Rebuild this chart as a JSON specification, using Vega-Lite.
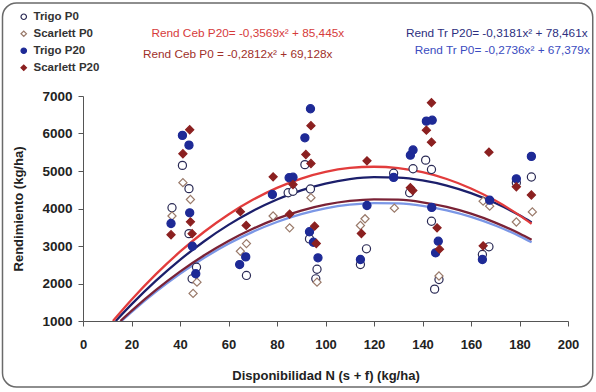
{
  "$schema": "https://vega.github.io/schema/vega-lite/v6.json",
  "width": 485,
  "height": 225,
  "autosize": {"type": "none"},
  "padding": {"left": 83, "top": 96, "right": 28, "bottom": 71},
  "background": "white",
  "config": {
    "view": {"stroke": null},
    "font": "Liberation Sans",
    "axis": {
      "grid": false,
      "domainColor": "#555",
      "tickColor": "#555",
      "tickSize": 5,
      "labelColor": "#222",
      "labelFont": "Liberation Sans",
      "labelFontWeight": "bold",
      "labelOverlap": false,
      "labelBound": false,
      "labelFlush": false,
      "titleFont": "Liberation Sans",
      "titleFontWeight": "bold",
      "titleColor": "#222",
      "titleFontSize": 13
    },
    "axisY": {"labelOverlap": false, "labelFontSize": 13.5},
    "axisQuantitative": {"labelOverlap": false}
  },
  "datasets": {
    "curves": [
      {"curve": "Trigo P0", "N": 15.86, "R": 1000}, {"curve": "Trigo P0", "N": 20, "R": 1238}, {"curve": "Trigo P0", "N": 30, "R": 1775}, {"curve": "Trigo P0", "N": 40, "R": 2257}, {"curve": "Trigo P0", "N": 50, "R": 2685}, {"curve": "Trigo P0", "N": 60, "R": 3058}, {"curve": "Trigo P0", "N": 70, "R": 3376}, {"curve": "Trigo P0", "N": 80, "R": 3639}, {"curve": "Trigo P0", "N": 90, "R": 3848}, {"curve": "Trigo P0", "N": 100, "R": 4002}, {"curve": "Trigo P0", "N": 110, "R": 4101}, {"curve": "Trigo P0", "N": 120, "R": 4146}, {"curve": "Trigo P0", "N": 130, "R": 4135}, {"curve": "Trigo P0", "N": 140, "R": 4071}, {"curve": "Trigo P0", "N": 150, "R": 3951}, {"curve": "Trigo P0", "N": 160, "R": 3777}, {"curve": "Trigo P0", "N": 170, "R": 3547}, {"curve": "Trigo P0", "N": 180, "R": 3264}, {"curve": "Trigo P0", "N": 185, "R": 3101},
      {"curve": "Ceb P0", "N": 15.43, "R": 1000}, {"curve": "Ceb P0", "N": 20, "R": 1270}, {"curve": "Ceb P0", "N": 30, "R": 1821}, {"curve": "Ceb P0", "N": 40, "R": 2315}, {"curve": "Ceb P0", "N": 50, "R": 2753}, {"curve": "Ceb P0", "N": 60, "R": 3135}, {"curve": "Ceb P0", "N": 70, "R": 3461}, {"curve": "Ceb P0", "N": 80, "R": 3731}, {"curve": "Ceb P0", "N": 90, "R": 3944}, {"curve": "Ceb P0", "N": 100, "R": 4101}, {"curve": "Ceb P0", "N": 110, "R": 4202}, {"curve": "Ceb P0", "N": 120, "R": 4246}, {"curve": "Ceb P0", "N": 130, "R": 4234}, {"curve": "Ceb P0", "N": 140, "R": 4166}, {"curve": "Ceb P0", "N": 150, "R": 4042}, {"curve": "Ceb P0", "N": 160, "R": 3862}, {"curve": "Ceb P0", "N": 170, "R": 3625}, {"curve": "Ceb P0", "N": 180, "R": 3332}, {"curve": "Ceb P0", "N": 185, "R": 3165},
      {"curve": "Trigo P20", "N": 13.49, "R": 1000}, {"curve": "Trigo P20", "N": 20, "R": 1442}, {"curve": "Trigo P20", "N": 30, "R": 2068}, {"curve": "Trigo P20", "N": 40, "R": 2630}, {"curve": "Trigo P20", "N": 50, "R": 3128}, {"curve": "Trigo P20", "N": 60, "R": 3563}, {"curve": "Trigo P20", "N": 70, "R": 3934}, {"curve": "Trigo P20", "N": 80, "R": 4241}, {"curve": "Trigo P20", "N": 90, "R": 4485}, {"curve": "Trigo P20", "N": 100, "R": 4665}, {"curve": "Trigo P20", "N": 110, "R": 4782}, {"curve": "Trigo P20", "N": 120, "R": 4835}, {"curve": "Trigo P20", "N": 130, "R": 4824}, {"curve": "Trigo P20", "N": 140, "R": 4750}, {"curve": "Trigo P20", "N": 150, "R": 4612}, {"curve": "Trigo P20", "N": 160, "R": 4410}, {"curve": "Trigo P20", "N": 170, "R": 4145}, {"curve": "Trigo P20", "N": 180, "R": 3817}, {"curve": "Trigo P20", "N": 185, "R": 3628},
      {"curve": "Ceb P20", "N": 12.34, "R": 1000}, {"curve": "Ceb P20", "N": 20, "R": 1566}, {"curve": "Ceb P20", "N": 30, "R": 2242}, {"curve": "Ceb P20", "N": 40, "R": 2847}, {"curve": "Ceb P20", "N": 50, "R": 3380}, {"curve": "Ceb P20", "N": 60, "R": 3842}, {"curve": "Ceb P20", "N": 70, "R": 4232}, {"curve": "Ceb P20", "N": 80, "R": 4551}, {"curve": "Ceb P20", "N": 90, "R": 4799}, {"curve": "Ceb P20", "N": 100, "R": 4976}, {"curve": "Ceb P20", "N": 110, "R": 5081}, {"curve": "Ceb P20", "N": 120, "R": 5114}, {"curve": "Ceb P20", "N": 130, "R": 5076}, {"curve": "Ceb P20", "N": 140, "R": 4967}, {"curve": "Ceb P20", "N": 150, "R": 4787}, {"curve": "Ceb P20", "N": 160, "R": 4535}, {"curve": "Ceb P20", "N": 170, "R": 4211}, {"curve": "Ceb P20", "N": 180, "R": 3817}, {"curve": "Ceb P20", "N": 185, "R": 3592}
    ],
    "points": [
      {"serie": "Trigo P0", "N": 36.7, "R": 4020}, {"serie": "Trigo P0", "N": 41, "R": 5150}, {"serie": "Trigo P0", "N": 43.7, "R": 4530}, {"serie": "Trigo P0", "N": 43.7, "R": 3330}, {"serie": "Trigo P0", "N": 46.8, "R": 2435}, {"serie": "Trigo P0", "N": 45, "R": 2125}, {"serie": "Trigo P0", "N": 67.4, "R": 2215}, {"serie": "Trigo P0", "N": 84.6, "R": 4420}, {"serie": "Trigo P0", "N": 86.6, "R": 4460}, {"serie": "Trigo P0", "N": 91.5, "R": 5170}, {"serie": "Trigo P0", "N": 93.8, "R": 4520}, {"serie": "Trigo P0", "N": 93.4, "R": 3190}, {"serie": "Trigo P0", "N": 96.5, "R": 2380}, {"serie": "Trigo P0", "N": 96, "R": 2125}, {"serie": "Trigo P0", "N": 116.9, "R": 2925}, {"serie": "Trigo P0", "N": 114.4, "R": 2507}, {"serie": "Trigo P0", "N": 128.1, "R": 4940}, {"serie": "Trigo P0", "N": 136.1, "R": 5060}, {"serie": "Trigo P0", "N": 134.7, "R": 4420}, {"serie": "Trigo P0", "N": 141.3, "R": 5290}, {"serie": "Trigo P0", "N": 143.7, "R": 5040}, {"serie": "Trigo P0", "N": 143.7, "R": 3660}, {"serie": "Trigo P0", "N": 146.8, "R": 2107}, {"serie": "Trigo P0", "N": 145, "R": 1850}, {"serie": "Trigo P0", "N": 167.4, "R": 2978}, {"serie": "Trigo P0", "N": 164.7, "R": 2773}, {"serie": "Trigo P0", "N": 178.7, "R": 4685}, {"serie": "Trigo P0", "N": 184.9, "R": 4840},
      {"serie": "Scarlett P0", "N": 36.7, "R": 3800}, {"serie": "Scarlett P0", "N": 41.2, "R": 4690}, {"serie": "Scarlett P0", "N": 44.3, "R": 4240}, {"serie": "Scarlett P0", "N": 47, "R": 2035}, {"serie": "Scarlett P0", "N": 45.4, "R": 1735}, {"serie": "Scarlett P0", "N": 64.9, "R": 2860}, {"serie": "Scarlett P0", "N": 67.4, "R": 3065}, {"serie": "Scarlett P0", "N": 78.4, "R": 3800}, {"serie": "Scarlett P0", "N": 85.2, "R": 3485}, {"serie": "Scarlett P0", "N": 94, "R": 4290}, {"serie": "Scarlett P0", "N": 96.5, "R": 2035}, {"serie": "Scarlett P0", "N": 114.4, "R": 3547}, {"serie": "Scarlett P0", "N": 116.3, "R": 3726}, {"serie": "Scarlett P0", "N": 128.4, "R": 4010}, {"serie": "Scarlett P0", "N": 146.8, "R": 2200}, {"serie": "Scarlett P0", "N": 165, "R": 4195}, {"serie": "Scarlett P0", "N": 167.7, "R": 4062}, {"serie": "Scarlett P0", "N": 178.7, "R": 3640}, {"serie": "Scarlett P0", "N": 185.3, "R": 3910},
      {"serie": "Trigo P20", "N": 36.3, "R": 3600}, {"serie": "Trigo P20", "N": 41, "R": 5950}, {"serie": "Trigo P20", "N": 43.7, "R": 5690}, {"serie": "Trigo P20", "N": 44, "R": 3885}, {"serie": "Trigo P20", "N": 45.1, "R": 2995}, {"serie": "Trigo P20", "N": 46.5, "R": 2260}, {"serie": "Trigo P20", "N": 64.6, "R": 2505}, {"serie": "Trigo P20", "N": 67.1, "R": 2710}, {"serie": "Trigo P20", "N": 78.1, "R": 4373}, {"serie": "Trigo P20", "N": 85, "R": 4820}, {"serie": "Trigo P20", "N": 86.6, "R": 4835}, {"serie": "Trigo P20", "N": 93.8, "R": 6660}, {"serie": "Trigo P20", "N": 91.5, "R": 5885}, {"serie": "Trigo P20", "N": 93.4, "R": 3380}, {"serie": "Trigo P20", "N": 95, "R": 3100}, {"serie": "Trigo P20", "N": 96.9, "R": 2685}, {"serie": "Trigo P20", "N": 117.1, "R": 4080}, {"serie": "Trigo P20", "N": 114.4, "R": 2640}, {"serie": "Trigo P20", "N": 128.1, "R": 4830}, {"serie": "Trigo P20", "N": 135, "R": 5422}, {"serie": "Trigo P20", "N": 136.1, "R": 5560}, {"serie": "Trigo P20", "N": 141.6, "R": 6330}, {"serie": "Trigo P20", "N": 144, "R": 6355}, {"serie": "Trigo P20", "N": 143.8, "R": 4030}, {"serie": "Trigo P20", "N": 146.5, "R": 3128}, {"serie": "Trigo P20", "N": 145.4, "R": 2818}, {"serie": "Trigo P20", "N": 167.7, "R": 4222}, {"serie": "Trigo P20", "N": 164.7, "R": 2640}, {"serie": "Trigo P20", "N": 178.7, "R": 4792}, {"serie": "Trigo P20", "N": 184.9, "R": 5390},
      {"serie": "Scarlett P20", "N": 36.3, "R": 3300}, {"serie": "Scarlett P20", "N": 44, "R": 6100}, {"serie": "Scarlett P20", "N": 41.2, "R": 5460}, {"serie": "Scarlett P20", "N": 44.3, "R": 3645}, {"serie": "Scarlett P20", "N": 45, "R": 3330}, {"serie": "Scarlett P20", "N": 64.9, "R": 3915}, {"serie": "Scarlett P20", "N": 67.3, "R": 3550}, {"serie": "Scarlett P20", "N": 78.4, "R": 4845}, {"serie": "Scarlett P20", "N": 85.2, "R": 3850}, {"serie": "Scarlett P20", "N": 86.6, "R": 4640}, {"serie": "Scarlett P20", "N": 94, "R": 6210}, {"serie": "Scarlett P20", "N": 91.9, "R": 5440}, {"serie": "Scarlett P20", "N": 94, "R": 5200}, {"serie": "Scarlett P20", "N": 95.5, "R": 3530}, {"serie": "Scarlett P20", "N": 96.2, "R": 3067}, {"serie": "Scarlett P20", "N": 117.1, "R": 5272}, {"serie": "Scarlett P20", "N": 114.8, "R": 3333}, {"serie": "Scarlett P20", "N": 135, "R": 4553}, {"serie": "Scarlett P20", "N": 136, "R": 4480}, {"serie": "Scarlett P20", "N": 143.7, "R": 6820}, {"serie": "Scarlett P20", "N": 141.6, "R": 6090}, {"serie": "Scarlett P20", "N": 143.7, "R": 5770}, {"serie": "Scarlett P20", "N": 146, "R": 3485}, {"serie": "Scarlett P20", "N": 147, "R": 2915}, {"serie": "Scarlett P20", "N": 167.4, "R": 5502}, {"serie": "Scarlett P20", "N": 165, "R": 3005}, {"serie": "Scarlett P20", "N": 178.7, "R": 4580}, {"serie": "Scarlett P20", "N": 184.9, "R": 4360}
    ]
  },
  "layer": [
    {
      "data": {"values": [{}]},
      "mark": {"type": "rect", "fill": null, "stroke": "#6a6a6a", "strokeWidth": 1.5, "cornerRadius": 14, "clip": false},
      "encoding": {"x": {"datum": -33.2}, "x2": {"datum": 210.2}, "y": {"datum": 9480}, "y2": {"datum": -760}}
    },
    {
      "data": {"name": "curves"},
      "mark": {"type": "line", "interpolate": "monotone", "strokeWidth": 2.3, "clip": true},
      "encoding": {
        "x": {"field": "N", "type": "quantitative", "scale": {"domain": [0, 200], "nice": false, "zero": false},
          "axis": {"values": [0, 20, 40, 60, 80, 100, 120, 140, 160, 180, 200], "format": "d", "labelOverlap": false, "labelFontSize": 13, "labelPadding": 12, "title": "Disponibilidad N (s + f) (kg/ha)", "titlePadding": 18}},
        "y": {"field": "R", "type": "quantitative", "scale": {"domain": [1000, 7000], "nice": false, "zero": false},
          "axis": {"values": [1000, 2000, 3000, 4000, 5000, 6000, 7000], "tickCount": 7, "format": "d", "labelOverlap": false, "labelFontSize": 13.5, "labelPadding": 6, "title": "Rendimiento (kg/ha)", "titlePadding": 16}},
        "color": {"field": "curve", "type": "nominal", "legend": null,
          "scale": {"domain": ["Trigo P0", "Ceb P0", "Trigo P20", "Ceb P20"], "range": ["#7b97e6", "#7a2236", "#1c1f6b", "#e23c3c"]}},
        "order": {"field": "N", "type": "quantitative"}
      }
    },
    {
      "data": {"name": "points"},
      "mark": {"type": "point", "opacity": 1, "strokeWidth": 1.2, "size": 66},
      "encoding": {
        "x": {"field": "N", "type": "quantitative"},
        "y": {"field": "R", "type": "quantitative",
          "axis": {"values": [1000, 2000, 3000, 4000, 5000, 6000, 7000], "tickCount": 7, "format": "d", "labelOverlap": false, "labelFontSize": 13.5, "labelPadding": 6, "title": "Rendimiento (kg/ha)", "titlePadding": 16}},
        "fill": {"field": "serie", "type": "nominal",
          "scale": {"domain": ["Trigo P0", "Scarlett P0", "Trigo P20", "Scarlett P20"], "range": ["white", "white", "#1e2a96", "#8b2020"]},
          "legend": {"orient": "none", "legendX": -65, "legendY": -85, "title": null, "labelFontSize": 11.5, "labelFontWeight": "bold", "labelColor": "#333", "symbolSize": 30, "rowPadding": 4, "labelOffset": 4, "symbolStrokeWidth": 1.2}},
        "stroke": {"field": "serie", "type": "nominal",
          "scale": {"domain": ["Trigo P0", "Scarlett P0", "Trigo P20", "Scarlett P20"], "range": ["#2a2a55", "#9a7a6a", "#1e2a96", "#8b2020"]},
          "legend": {"orient": "none", "legendX": -65, "legendY": -85, "title": null, "labelFontSize": 11.5, "labelFontWeight": "bold", "labelColor": "#333", "symbolSize": 30, "rowPadding": 4, "labelOffset": 4, "symbolStrokeWidth": 1.2}},
        "shape": {"field": "serie", "type": "nominal",
          "scale": {"domain": ["Trigo P0", "Scarlett P0", "Trigo P20", "Scarlett P20"], "range": ["circle", "diamond", "circle", "diamond"]},
          "legend": {"orient": "none", "legendX": -65, "legendY": -85, "title": null, "labelFontSize": 11.5, "labelFontWeight": "bold", "labelColor": "#333", "symbolSize": 30, "rowPadding": 4, "labelOffset": 4, "symbolStrokeWidth": 1.2}}
      }
    },
    {
      "data": {"values": [{}]},
      "mark": {"type": "text", "align": "left", "baseline": "middle", "fontSize": 11.8, "color": "#d63b3b"},
      "encoding": {"x": {"datum": 28.2}, "y": {"datum": 8693}, "text": {"value": "Rend Ceb P20= -0,3569x² + 85,445x"}}
    },
    {
      "data": {"values": [{}]},
      "mark": {"type": "text", "align": "left", "baseline": "middle", "fontSize": 11.8, "color": "#a0302a"},
      "encoding": {"x": {"datum": 24.7}, "y": {"datum": 8107}, "text": {"value": "Rend Ceb P0 = -0,2812x² + 69,128x"}}
    },
    {
      "data": {"values": [{}]},
      "mark": {"type": "text", "align": "right", "baseline": "middle", "fontSize": 11.8, "color": "#2d2f80"},
      "encoding": {"x": {"datum": 208.1}, "y": {"datum": 8693}, "text": {"value": "Rend Tr P20= -0,3181x² + 78,461x"}}
    },
    {
      "data": {"values": [{}]},
      "mark": {"type": "text", "align": "right", "baseline": "middle", "fontSize": 11.8, "color": "#3b4cc0"},
      "encoding": {"x": {"datum": 209}, "y": {"datum": 8227}, "text": {"value": "Rend Tr P0= -0,2736x² + 67,379x"}}
    }
  ]
}
